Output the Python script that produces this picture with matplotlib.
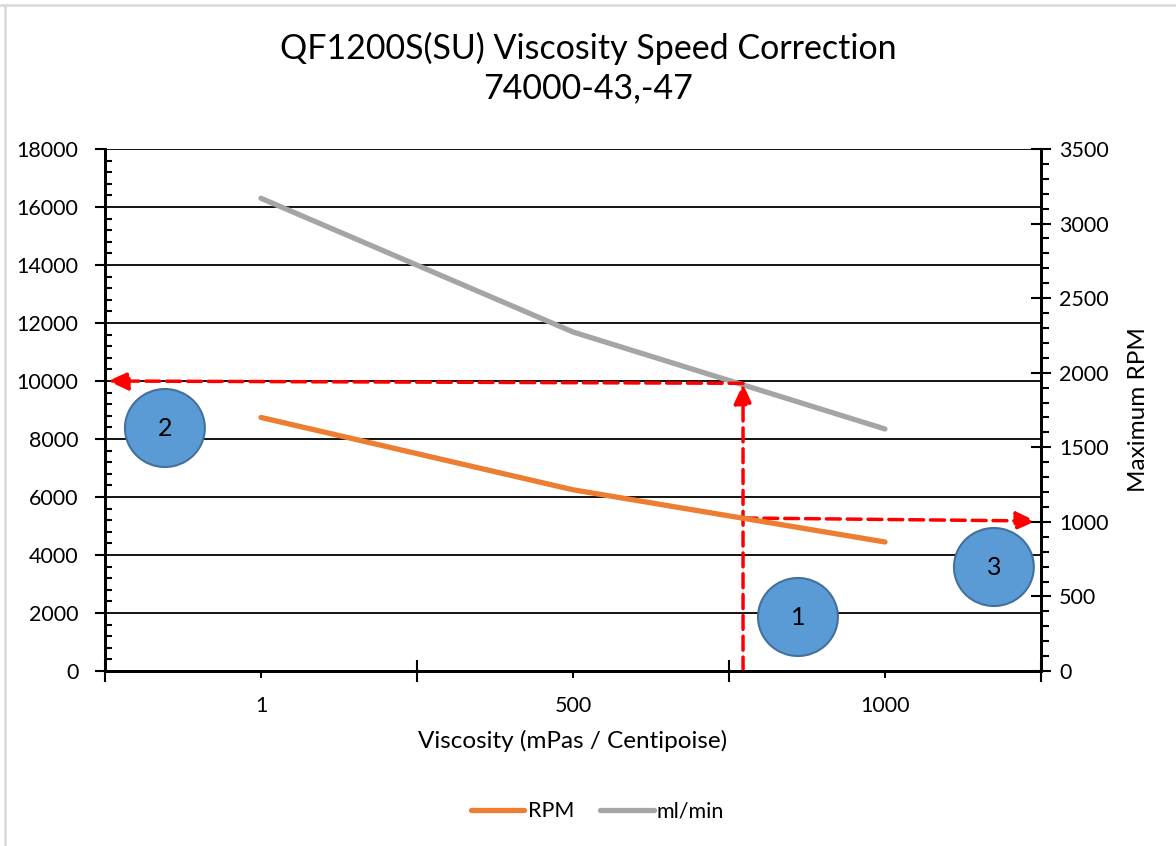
import matplotlib
matplotlib.use('Agg')
import matplotlib.pyplot as plt
import matplotlib.ticker as ticker
from matplotlib.patches import Ellipse
from matplotlib.lines import Line2D

plt.rcParams['font.family'] = ['Lato', 'DejaVu Sans']

# data
viscosity = ['1', '500', '1000']
rpm = [1700, 1215, 865]
flow = [16300, 11690, 8345]

# marker annotations (left-axis units)
read_x = 1.545
flow_read = 10000
rpm_start = 5276
rpm_end = 5172
callouts = [('1', 1.721, 1862), ('2', -0.308, 8379), ('3', 2.349, 3586)]

ORANGE = '#ED7D31'
GRAY = '#A5A5A5'
RED = '#FF0000'
BLUE = '#5B9BD5'
BLUE_EDGE = '#41719C'

fig = plt.figure(figsize=(11.76, 8.46), dpi=100)
ax = fig.add_axes([105 / 1176, 175 / 846, 936 / 1176, 522 / 846])
ax2 = ax.twinx()

x = list(range(len(viscosity)))
ax.plot(x, flow, color=GRAY, lw=3.8, solid_capstyle='round', zorder=3)
ax2.plot(x, rpm, color=ORANGE, lw=3.8, solid_capstyle='round', zorder=3)

ax.set_xlim(-0.5, 2.5)
ax.set_ylim(0, 18000)
ax2.set_ylim(0, 3500)

# x axis: labels at category centres, crossing ticks at boundaries
ax.set_xticks(x)
ax.set_xticklabels(viscosity)
ax.xaxis.set_minor_locator(ticker.FixedLocator([-0.5, 0.5, 1.5, 2.5]))
ax.tick_params(axis='x', which='major', direction='out', length=5, width=1.5, labelsize=15.5, pad=13)
ax.tick_params(axis='x', which='minor', direction='inout', length=16, width=1.5)

ax.yaxis.set_major_locator(ticker.MultipleLocator(2000))
ax.yaxis.set_minor_locator(ticker.MultipleLocator(400))
ax.tick_params(axis='y', which='major', direction='out', length=7, width=1.5, labelsize=15.5, pad=12)
ax.tick_params(axis='y', which='minor', direction='in', length=5, width=1.5)

ax2.yaxis.set_major_locator(ticker.MultipleLocator(500))
ax2.yaxis.set_minor_locator(ticker.MultipleLocator(100))
ax2.tick_params(axis='y', which='major', direction='inout', length=14, width=1.5, labelsize=15.5, pad=6)
ax2.tick_params(axis='y', which='minor', direction='out', length=6, width=1.5)

ax.grid(axis='y', which='major', color='black', lw=1.3)
ax.set_axisbelow(True)
for a in (ax, ax2):
    a.spines['top'].set_visible(False)
    for s in ('left', 'right', 'bottom'):
        a.spines[s].set_linewidth(2)

ax.set_xlabel('Viscosity (mPas / Centipoise)', fontsize=17.5, labelpad=10)
ax2.set_ylabel('Maximum RPM', fontsize=17.5, labelpad=14)

fig.suptitle('QF1200S(SU) Viscosity Speed Correction\n74000-43,-47', fontsize=24.5, y=0.962, linespacing=1.25)

# red dashed arrows
arrow = dict(arrowstyle='-|>,head_length=1.2,head_width=0.55', color=RED, lw=2.5,
             linestyle=(0, (4, 2)), shrinkA=0, shrinkB=0)
ax.annotate('', xy=(read_x, 9900), xytext=(read_x, 0), arrowprops=arrow, zorder=5)
ax.annotate('', xy=(-0.49, flow_read), xytext=(read_x, flow_read - 80), arrowprops=arrow, zorder=5)
ax.annotate('', xy=(2.484, rpm_end), xytext=(read_x, rpm_start), arrowprops=arrow, zorder=5)

# numbered callouts
for label, cx, cy in callouts:
    ax2.add_patch(Ellipse((cx, cy * 3500 / 18000), 0.256, 2690 * 3500 / 18000,
                          facecolor=BLUE, edgecolor=BLUE_EDGE, lw=1.5, zorder=6, clip_on=False))
    ax2.text(cx, cy * 3500 / 18000, label, ha='center', va='center', fontsize=18, zorder=7)

handles = [Line2D([], [], color=ORANGE, lw=3.8, solid_capstyle='round'),
           Line2D([], [], color=GRAY, lw=3.8, solid_capstyle='round')]
fig.legend(handles, ['RPM', 'ml/min'], loc='center', bbox_to_anchor=(0.508, 0.041), ncol=2,
           frameon=False, fontsize=15.5, handlelength=2.5, handletextpad=0.15, columnspacing=1.2)

# chart frame (top and left edges visible)
fig.add_artist(Line2D([0, 1], [1 - 5 / 846, 1 - 5 / 846], color='#D9D9D9', lw=1.8))
fig.add_artist(Line2D([5 / 1176, 5 / 1176], [0, 1 - 5 / 846], color='#D9D9D9', lw=1.8))

fig.savefig('out.png', dpi=100)
